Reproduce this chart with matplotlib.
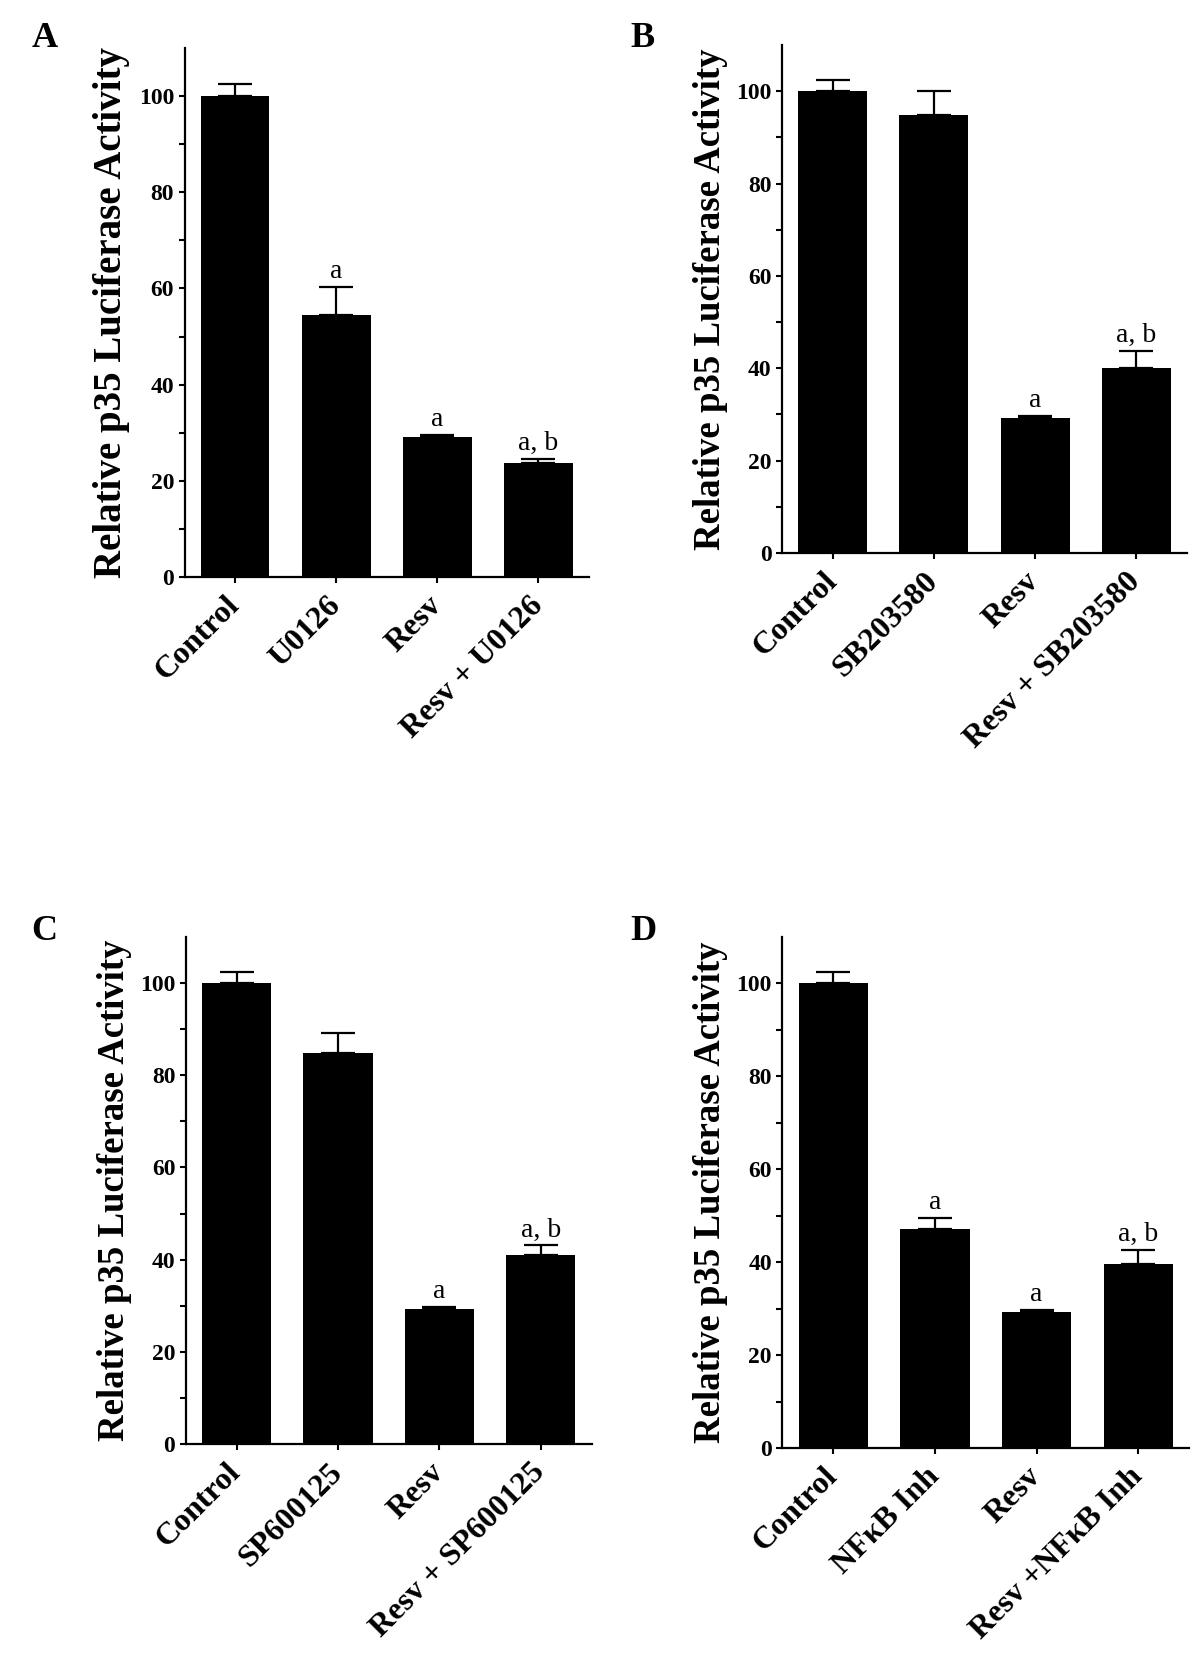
"""Actividad relativa de luciferasa p35 con distintos inhibidores (paneles A-D)."""

import matplotlib
matplotlib.use("Agg")
import matplotlib.pyplot as plt
import numpy as np
from matplotlib.ticker import FixedLocator

plt.rcParams["font.family"] = ["Liberation Serif", "DejaVu Serif"]

# Panel A
labels_a = ["Control", "U0126", "Resv", "Resv + U0126"]
means_a = [100.0, 54.5, 29.2, 23.8]
errs_a = [2.4, 5.8, 0.4, 0.8]
marks_a = ["", "a", "a", "a, b"]

# Panel B
labels_b = ["Control", "SB203580", "Resv", "Resv + SB203580"]
means_b = [100.0, 94.8, 29.3, 40.0]
errs_b = [2.4, 5.2, 0.4, 3.7]
marks_b = ["", "", "a", "a, b"]

# Panel C
labels_c = ["Control", "SP600125", "Resv", "Resv + SP600125"]
means_c = [100.0, 84.8, 29.2, 40.9]
errs_c = [2.4, 4.3, 0.5, 2.2]
marks_c = ["", "", "a", "a, b"]

# Panel D
labels_d = ["Control", "NF\u03baB Inh", "Resv", "Resv +NF\u03baB Inh"]
means_d = [100.0, 47.1, 29.3, 39.6]
errs_d = [2.5, 2.5, 0.4, 3.1]
marks_d = ["", "a", "a", "a, b"]

y_major = [0, 20, 40, 60, 80, 100]
y_minor = [10, 30, 50, 70, 90]
y_label = "Relative p35 Luciferase Activity"


def draw_panel(fig, rect, letter, letter_xy, labels, means, errs, marks,
               label_size):
    """Dibuja un panel de barras con error superior y letras de significancia.

    Args:
        fig: Figura de matplotlib.
        rect (list): Posición del eje [izq, abajo, ancho, alto] en fracción.
        letter (str): Letra del panel.
        letter_xy (tuple): Posición (línea base) de la letra en la figura.
        labels, means, errs, marks: Datos del panel.
        label_size (float): Tamaño de la etiqueta del eje y.
    """
    ax = fig.add_axes(rect)
    x = np.arange(len(labels))
    ax.bar(x, means, width=0.68, color="black", zorder=2)
    ax.errorbar(x, means, yerr=[np.zeros(len(errs)), errs], fmt="none",
                ecolor="black", elinewidth=1.6, capsize=12, capthick=1.6,
                zorder=1)

    for xi, m, e, t in zip(x, means, errs, marks):
        if t:
            ax.annotate(t, (xi, m + e), xytext=(0, 2),
                        textcoords="offset points", ha="center", va="bottom",
                        fontsize=20)

    ax.set_xlim(-0.5, len(labels) - 0.5)
    ax.set_ylim(0, 110)
    ax.yaxis.set_major_locator(FixedLocator(y_major))
    ax.yaxis.set_minor_locator(FixedLocator(y_minor))
    ax.set_xticks(x)
    ax.set_xticklabels(labels, rotation=45, ha="right", va="center",
                       rotation_mode="anchor", fontsize=23, fontweight="bold")
    for t in ax.get_yticklabels():
        t.set_fontweight("bold")
    ax.tick_params(axis="y", which="major", labelsize=17, length=4.5,
                   width=1.5, pad=3)
    ax.tick_params(axis="y", which="minor", length=4.5, width=1.5)
    ax.tick_params(axis="x", length=4.5, width=1.5, pad=13)

    for side in ["top", "right"]:
        ax.spines[side].set_visible(False)
    for side in ["left", "bottom"]:
        ax.spines[side].set_linewidth(1.6)

    ax.set_ylabel(y_label, fontsize=label_size, fontweight="bold",
                  labelpad=6)
    fig.text(letter_xy[0], letter_xy[1], letter, fontsize=26,
             fontweight="bold", ha="left", va="baseline")
    return ax


fig = plt.figure(figsize=(12, 16.59), dpi=100)

draw_panel(fig, [0.1538, 0.6522, 0.337, 0.3189], "A", (0.026, 0.9717),
           labels_a, means_a, errs_a, marks_a, 28)
draw_panel(fig, [0.6517, 0.6667, 0.3375, 0.3062], "B", (0.525, 0.9715),
           labels_b, means_b, errs_b, marks_b, 26.5)
draw_panel(fig, [0.1548, 0.1296, 0.3383, 0.3056], "C", (0.026, 0.4336),
           labels_c, means_c, errs_c, marks_c, 26.5)
draw_panel(fig, [0.6520, 0.1272, 0.3390, 0.3080], "D", (0.525, 0.4336),
           labels_d, means_d, errs_d, marks_d, 26.5)

fig.savefig("out.png", dpi=100)
